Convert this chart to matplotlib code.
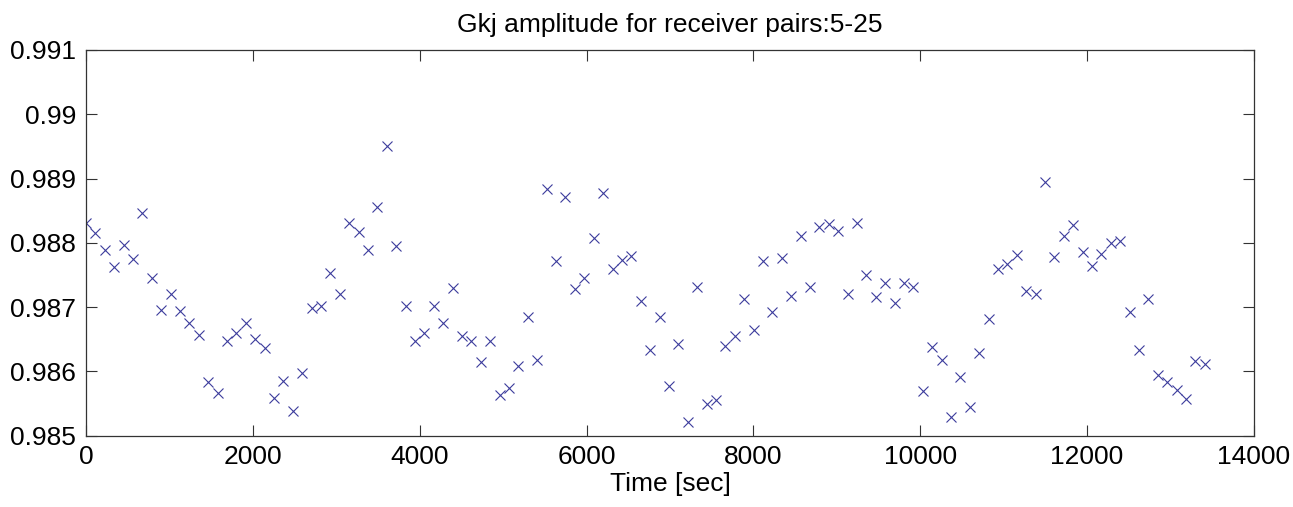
import numpy as np
import matplotlib
matplotlib.use('Agg')
import matplotlib.pyplot as plt

# amplitude samples (one every ~112.7 s starting at t=0)
dt = 112.7
amp = [0.98831, 0.98816, 0.98789, 0.98762, 0.98796, 0.98775, 0.98847, 0.98745, 0.98695, 0.98721,
       0.98694, 0.98676, 0.98656, 0.98583, 0.98567, 0.98647, 0.98659, 0.98676, 0.98650, 0.98636,
       0.98559, 0.98585, 0.98538, 0.98598, 0.98698, 0.98701, 0.98753, 0.98721, 0.98831, 0.98817,
       0.98789, 0.98855, 0.98950, 0.98795, 0.98702, 0.98647, 0.98659, 0.98701, 0.98676, 0.98730,
       0.98655, 0.98647, 0.98614, 0.98647, 0.98563, 0.98575, 0.98608, 0.98685, 0.98618, 0.98884,
       0.98772, 0.98872, 0.98728, 0.98746, 0.98807, 0.98878, 0.98760, 0.98774, 0.98779, 0.98710,
       0.98633, 0.98685, 0.98577, 0.98642, 0.98522, 0.98732, 0.98549, 0.98556, 0.98640, 0.98655,
       0.98713, 0.98665, 0.98771, 0.98692, 0.98776, 0.98717, 0.98811, 0.98731, 0.98824, 0.98830,
       0.98818, 0.98721, 0.98831, 0.98750, 0.98716, 0.98738, 0.98706, 0.98738, 0.98732, 0.98569,
       0.98638, 0.98618, 0.98529, 0.98592, 0.98545, 0.98628, 0.98682, 0.98760, 0.98767, 0.98781,
       0.98725, 0.98721, 0.98894, 0.98778, 0.98811, 0.98827, 0.98786, 0.98764, 0.98782, 0.98799,
       0.98803, 0.98692, 0.98633, 0.98712, 0.98594, 0.98583, 0.98571, 0.98557, 0.98616, 0.98612]
times = np.arange(len(amp)) * dt

xticks = [0, 2000, 4000, 6000, 8000, 10000, 12000, 14000]
yticks = [0.985, 0.986, 0.987, 0.988, 0.989, 0.990, 0.991]
ylabels = ['0.985', '0.986', '0.987', '0.988', '0.989', '0.99', '0.991']

plt.rcParams['font.family'] = ['Liberation Sans', 'DejaVu Sans']
fig = plt.figure(figsize=(12.93, 5.07), dpi=100)
ax = fig.add_axes([0.0665, 0.1406, 0.9033, 0.7608])

ax.plot(times, amp, 'x', color='#3c3c9c', markersize=7, markeredgewidth=0.8)

ax.set_xlim(0, 14000)
ax.set_ylim(0.985, 0.991)
ax.set_xticks(xticks)
ax.set_xticklabels([str(t) for t in xticks])
ax.set_yticks(yticks)
ax.set_yticklabels(ylabels)
ax.tick_params(direction='in', length=8, width=0.8, top=True, right=True,
               labelsize=19, color='#333333')
ax.tick_params(axis='x', pad=7)
ax.tick_params(axis='y', pad=7)
for s in ax.spines.values():
    s.set_color('#333333')
    s.set_linewidth(0.9)

ax.set_title('Gkj amplitude for receiver pairs:5-25', fontsize=19, pad=13)
ax.set_xlabel('Time [sec]', fontsize=19, labelpad=2)

fig.savefig('out.png', dpi=100)
